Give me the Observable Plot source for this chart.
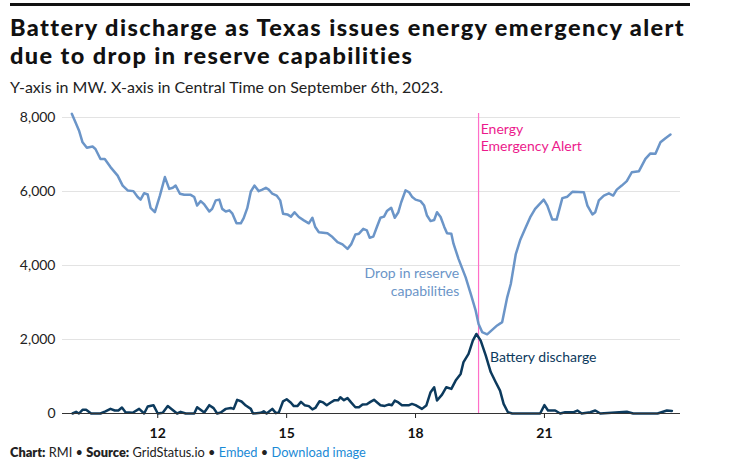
<!DOCTYPE html>
<html>
<head>
<meta charset="utf-8">
<script src="https://cdn.jsdelivr.net/npm/d3@7"></script>
<script src="https://cdn.jsdelivr.net/npm/@observablehq/plot@0.6"></script>
<style>
  body { margin: 0; background: #fff; font-family: "Lato", sans-serif; }
  #wrap { position: relative; width: 742px; height: 470px; overflow: hidden; }
  #rule { position: absolute; left: 10px; top: 3px; width: 680px; height: 3px; background: #111; }
  #title { position: absolute; left: 10px; top: 13px; width: 720px; font-size: 23.5px; line-height: 28.4px; font-weight: 900; color: #111; letter-spacing: 1.4px; white-space: nowrap; }
  #subtitle { position: absolute; left: 10px; top: 77px; font-size: 16px; line-height: 20px; color: #222; }
  #chart { position: absolute; left: 0; top: 100px; }
  #footer { position: absolute; left: 10px; top: 444px; font-size: 12.8px; color: #222; white-space: nowrap; }
  #footer b { font-weight: 800; }
  #footer .lnk { color: #1a8ad6; }
</style>
</head>
<body>
<div id="wrap">
  <div id="rule"></div>
  <div id="title">Battery discharge as Texas issues energy emergency alert<br>due to drop in reserve capabilities</div>
  <div id="subtitle">Y-axis in MW. X-axis in Central Time on September 6th, 2023.</div>
  <div id="chart"></div>
  <div id="footer"><b>Chart:</b> RMI • <b>Source:</b> GridStatus.io • <span class="lnk">Embed</span> • <span class="lnk">Download image</span></div>
</div>
<script>
// Reserve capabilities (MW)
const reserveTimes = ["10:00","10:06","10:10","10:15","10:21","10:29","10:33","10:40","10:46","10:54","11:04","11:11","11:18","11:26","11:32","11:36","11:41","11:46","11:50","11:56","12:03","12:10","12:16","12:21","12:25","12:31","12:37","12:46","12:51","12:55","13:00","13:05","13:12","13:16","13:21","13:26","13:30","13:35","13:40","13:44","13:50","13:56","14:00","14:05","14:10","14:15","14:21","14:26","14:31","14:35","14:40","14:46","14:51","14:55","15:01","15:06","15:11","15:17","15:24","15:31","15:36","15:40","15:45","15:57","16:04","16:11","16:18","16:25","16:30","16:36","16:41","16:47","16:52","16:56","17:01","17:06","17:11","17:16","17:20","17:26","17:31","17:36","17:40","17:46","17:51","17:55","18:00","18:07","18:12","18:16","18:21","18:26","18:30","18:35","18:40","18:44","18:50","18:53","19:00","19:10","19:17","19:24","19:28","19:33","19:40","19:47","19:54","20:01","20:08","20:13","20:20","20:26","20:33","20:40","20:47","20:59","21:04","21:11","21:17","21:25","21:32","21:39","21:55","22:00","22:07","22:11","22:16","22:23","22:30","22:36","22:41","22:48","22:55","23:02","23:12","23:21","23:28","23:35","23:42","23:49","23:56"];
const reserveValues = [8100,7830,7650,7330,7180,7215,7150,6880,6880,6660,6430,6160,6030,6010,5850,5780,5955,5920,5560,5440,5890,6390,6070,6100,6160,5940,5910,5910,5850,5620,5740,5650,5460,5530,5760,5780,5530,5460,5490,5410,5140,5140,5280,5550,6000,6160,6010,6050,6100,6050,5940,5890,5760,5400,5380,5320,5440,5310,5220,5140,5290,5040,4900,4870,4770,4630,4570,4450,4570,4840,4860,4990,4950,4750,4780,5040,5290,5320,5470,5560,5290,5440,5710,6030,5980,5860,5780,5740,5620,5350,5200,5230,5440,5310,5050,4870,4860,4590,4180,3680,3240,2780,2420,2200,2140,2260,2380,2470,3140,3500,4310,4680,4990,5300,5530,5780,5620,5240,5240,5820,5860,5990,5980,5620,5380,5440,5760,5890,5950,5890,6050,6160,6280,6520,6550,6880,7030,7020,7330,7440,7540];

// Battery discharge (MW)
const batteryTimes = ["10:01","10:06","10:10","10:15","10:20","10:27","10:40","10:47","10:54","11:00","11:05","11:10","11:15","11:25","11:34","11:41","11:46","11:54","12:00","12:07","12:14","12:20","12:27","12:32","12:39","12:51","12:55","13:05","13:12","13:18","13:23","13:28","13:35","13:42","13:46","13:51","13:57","14:03","14:10","14:13","14:24","14:28","14:32","14:40","14:45","14:49","14:55","15:00","15:06","15:10","15:15","15:20","15:25","15:31","15:36","15:40","15:46","15:51","15:56","16:01","16:07","16:12","16:15","16:20","16:25","16:30","16:36","16:41","16:46","16:52","16:57","17:02","17:06","17:11","17:17","17:23","17:27","17:31","17:36","17:41","17:51","17:55","18:00","18:09","18:15","18:21","18:26","18:30","18:37","18:43","18:50","18:56","19:03","19:07","19:14","19:20","19:25","19:31","19:38","19:45","19:52","19:58","20:03","20:09","20:15","20:54","21:00","21:05","21:15","21:22","21:29","21:41","21:46","21:52","22:04","22:11","22:18","22:55","23:04","23:38","23:51","23:58"];
const batteryValues = [0,45,0,100,100,0,0,60,125,80,80,160,35,20,125,0,190,225,0,20,200,110,0,45,0,0,170,25,225,145,0,25,125,150,125,370,325,215,125,0,20,60,0,125,10,25,330,385,290,200,200,315,225,200,110,150,330,300,225,290,360,360,440,360,415,300,170,170,245,250,315,370,305,225,205,245,225,350,300,225,225,260,225,125,215,575,710,350,510,710,665,890,1070,1390,1610,1970,2150,1970,1570,1120,845,620,260,35,0,0,225,80,80,0,35,35,80,0,35,80,0,45,0,0,80,70];

const alertTime = ["19:28"];
const xTickLabels = ["12:00","15:00","18:00","21:00"];
const yTickValues = [0, 2000, 4000, 6000, 8000];
const xDomain = ["09:47", "24:10"];

const parseT = t => { const [h, m] = t.split(":").map(Number); return new Date(Date.UTC(2023, 8, 6, h, m)); };

const reserve = reserveTimes.map((t, i) => ({time: parseT(t), value: reserveValues[i]}));
const battery = batteryTimes.map((t, i) => ({time: parseT(t), value: batteryValues[i]}));

const lightBlue = "#6b95c8";
const darkBlue = "#0c3a5d";
const pink = "#ff6fc8";
const pinkText = "#ec1a8c";

const reserveNote = [{time: parseT("19:01"), value: 3570, text: "Drop in reserve\ncapabilities"}];
const batteryNote = [{time: parseT("19:44"), value: 1520, text: "Battery discharge"}];
const alertNote = [{time: parseT("19:31"), value: 7480, text: "Energy\nEmergency Alert"}];

const chart = Plot.plot({
  width: 742,
  height: 345,
  marginLeft: 62,
  marginRight: 62,
  marginTop: 13,
  marginBottom: 32,
  style: {fontFamily: "Lato, sans-serif", fontSize: "14px", color: "#222", background: "transparent"},
  x: {type: "utc", domain: xDomain.map(parseT)},
  y: {domain: [0, 8108]},
  marks: [
    Plot.gridY(yTickValues, {stroke: "#e3e3e3", strokeOpacity: 1, strokeWidth: 1}),
    Plot.axisY(yTickValues, {tickSize: 0, tickPadding: 7, tickFormat: d3.format(","), label: null, fontSize: 14, fill: "#222"}),
    Plot.axisX(xTickLabels.map(parseT), {tickSize: 5, tickPadding: 10, tickFormat: d => String(d.getUTCHours()), label: null, fontSize: 14, fontWeight: "bold", stroke: "#222", fill: "#111"}),
    Plot.ruleX(alertTime.map(parseT), {stroke: pink, strokeWidth: 1.2}),
    Plot.line(reserve, {x: "time", y: "value", stroke: lightBlue, strokeWidth: 2.5, curve: "linear"}),
    Plot.line(battery, {x: "time", y: "value", stroke: darkBlue, strokeWidth: 2.5, curve: "linear"}),
    Plot.ruleY([0], {stroke: "#333", strokeWidth: 1.2}),
    Plot.text(reserveNote, {x: "time", y: "value", text: "text", fill: lightBlue, textAnchor: "end", lineAnchor: "middle", lineHeight: 1.25, fontSize: 14}),
    Plot.text(batteryNote, {x: "time", y: "value", text: "text", fill: darkBlue, textAnchor: "start", lineAnchor: "middle", fontSize: 14}),
    Plot.text(alertNote, {x: "time", y: "value", text: "text", fill: pinkText, textAnchor: "start", lineAnchor: "middle", lineHeight: 1.25, fontSize: 14})
  ]
});
document.getElementById("chart").appendChild(chart);
</script>
</body>
</html>
